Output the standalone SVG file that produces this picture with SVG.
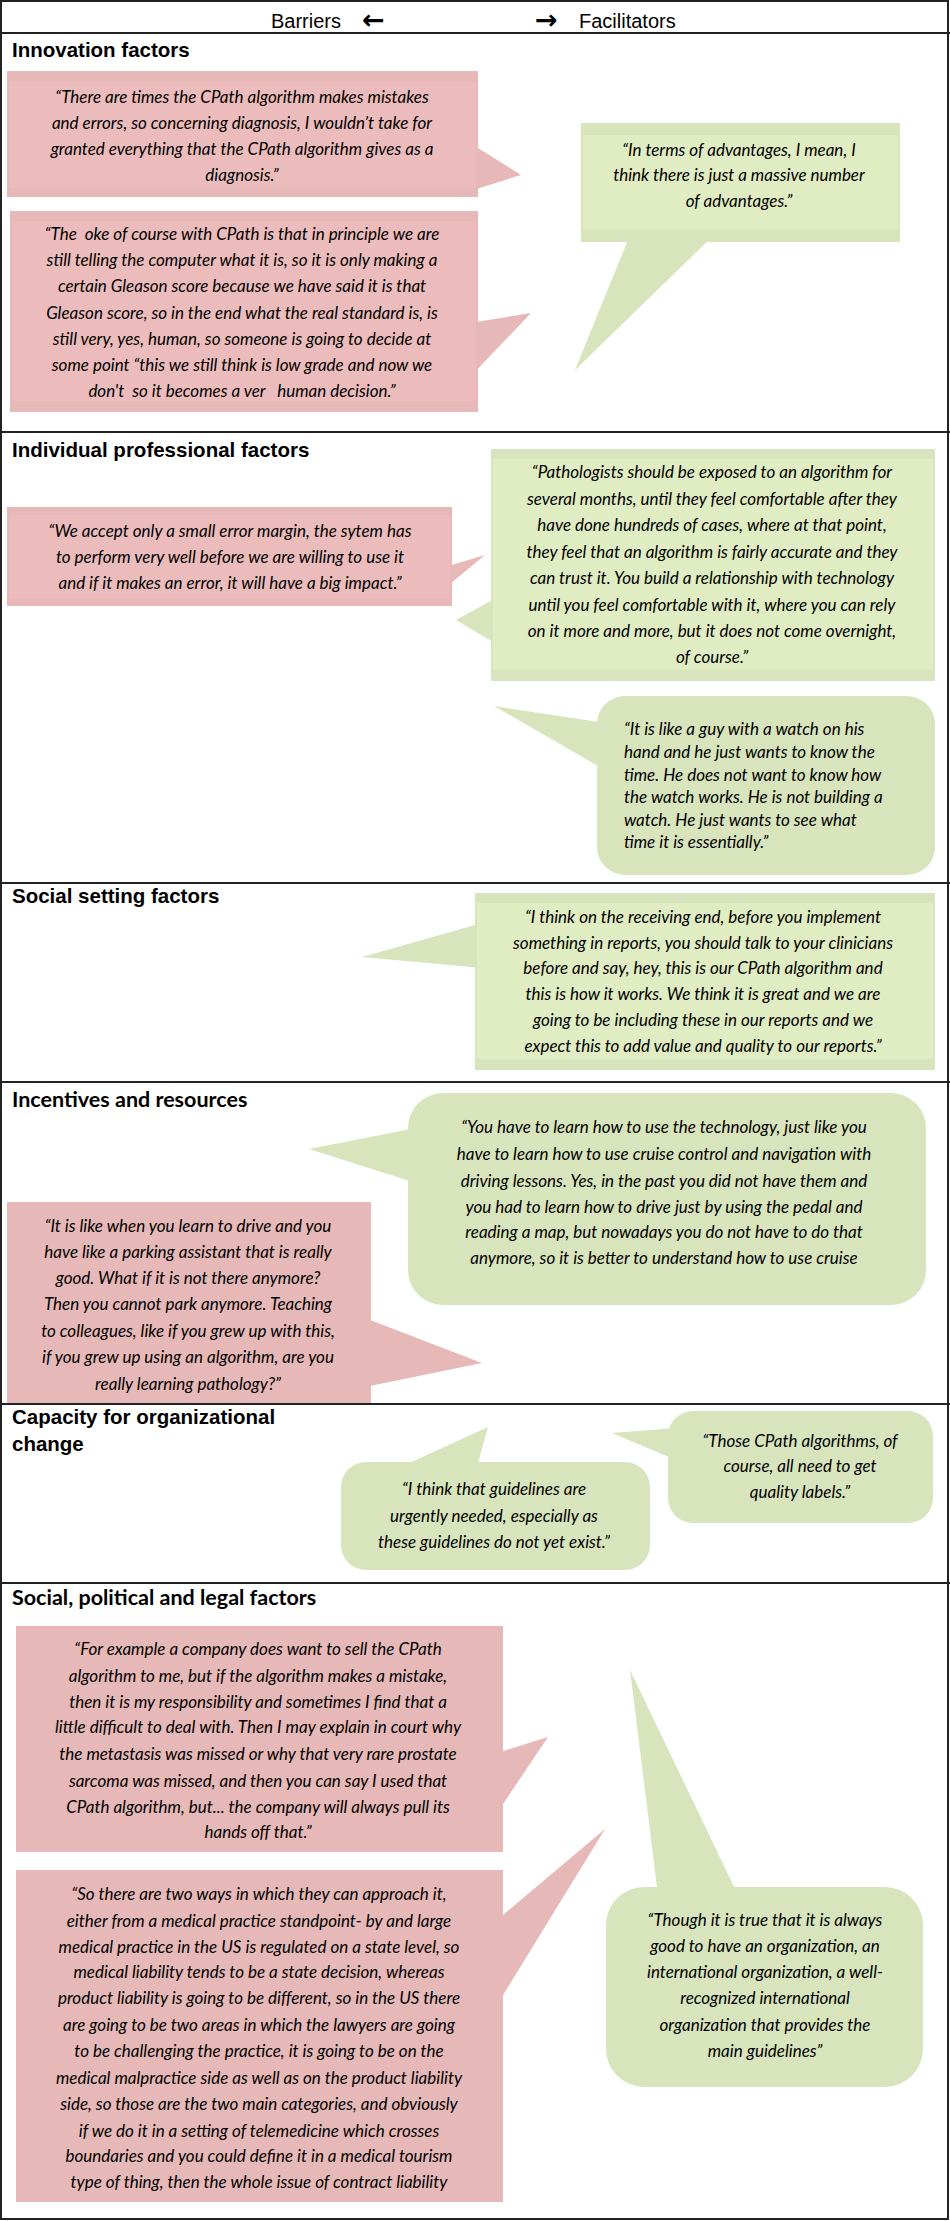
<svg xmlns="http://www.w3.org/2000/svg" width="950" height="2221" viewBox="0 0 950 2221">
<style>
.red{fill:#e6b8b7}
.redi{fill:#ebbcbb}
.grn{fill:#d8e4bc}
.grni{fill:#e0ecc2}
.q{font-family:Lato,"Liberation Sans",sans-serif;font-style:italic;font-size:17px;fill:#000}
.c{text-anchor:middle}
.h{font-family:"Liberation Sans",Arial,sans-serif;font-weight:bold;font-size:20.5px;fill:#000}
.h2{font-family:Lato,"Liberation Sans",sans-serif;font-weight:bold;font-size:21.5px;fill:#000}
.top{font-family:"Liberation Sans",Arial,sans-serif;font-size:20px;fill:#000}
.arr{font-family:"DejaVu Sans",sans-serif;font-weight:bold;font-size:27px;fill:#000}
.sep{stroke:#222;stroke-width:2;fill:none}
</style>
<rect width="950" height="2221" fill="#fff"/>
<g id="frame">
<rect x="1" y="1" width="947" height="2218" class="sep"/>
<line x1="0" y1="33" x2="950" y2="33" class="sep"/>
<line x1="0" y1="432" x2="950" y2="432" class="sep"/>
<line x1="0" y1="883" x2="950" y2="883" class="sep"/>
<line x1="0" y1="1082" x2="950" y2="1082" class="sep"/>
<line x1="0" y1="1404" x2="950" y2="1404" class="sep"/>
<line x1="0" y1="1583" x2="950" y2="1583" class="sep"/>
</g>
<g id="header">
<text x="271" y="28" class="top">Barriers</text>
<text x="362" y="29" class="arr">←</text>
<text x="535" y="29" class="arr">→</text>
<text x="579" y="28" class="top">Facilitators</text>
</g>
<g id="headings">
<text x="12" y="57" class="h">Innovation factors</text>
<text x="12" y="457" class="h">Individual professional factors</text>
<text x="12" y="903" class="h">Social setting factors</text>
<text x="12" y="1107" class="h2">Incentives and resources</text>
<text x="12" y="1424" class="h">Capacity for organizational</text>
<text x="12" y="1451" class="h">change</text>
<text x="12" y="1605" class="h2">Social, political and legal factors</text>
</g>

<g id="red1">
<polygon class="red" points="470,143 521,175 470,191"/>
<rect class="red" x="7" y="71" width="471" height="126"/>
<rect class="redi" x="9" y="82" width="467" height="106"/>
<text class="q c" x="242" y="103">“There are times the CPath algorithm makes mistakes</text>
<text class="q c" x="242" y="129">and errors, so concerning diagnosis, I wouldn’t take for</text>
<text class="q c" x="242" y="155">granted everything that the CPath algorithm gives as a</text>
<text class="q c" x="242" y="181">diagnosis.”</text>
</g>

<g id="green1">
<polygon class="grn" points="630,235 575,370 714,235"/>
<rect class="grn" x="581" y="123" width="319" height="119"/>
<rect class="grni" x="583" y="135" width="315" height="95"/>
<text class="q c" x="739" y="156">“In terms of advantages, I mean, I</text>
<text class="q c" x="739" y="181">think there is just a massive number</text>
<text class="q c" x="739" y="207">of advantages.”</text>
</g>

<g id="red2">
<polygon class="red" points="470,323 531,313 470,377"/>
<rect class="red" x="10" y="211" width="468" height="201"/>
<rect class="redi" x="12" y="221" width="464" height="180"/>
<text class="q c" x="242" y="240" xml:space="preserve">“The  oke of course with CPath is that in principle we are</text>
<text class="q c" x="242" y="266">still telling the computer what it is, so it is only making a</text>
<text class="q c" x="242" y="292">certain Gleason score because we have said it is that</text>
<text class="q c" x="242" y="319">Gleason score, so in the end what the real standard is, is</text>
<text class="q c" x="242" y="345">still very, yes, human, so someone is going to decide at</text>
<text class="q c" x="242" y="371">some point “this we still think is low grade and now we</text>
<text class="q c" x="242" y="397" xml:space="preserve">don't  so it becomes a ver   human decision.”</text>
</g>

<g id="red3">
<polygon class="red" points="445,567 485,555 445,588"/>
<rect class="red" x="7" y="507" width="445" height="99"/>
<rect class="redi" x="9" y="515" width="441" height="83"/>
<text class="q c" x="230" y="537">“We accept only a small error margin, the sytem has</text>
<text class="q c" x="230" y="563">to perform very well before we are willing to use it</text>
<text class="q c" x="230" y="589">and if it makes an error, it will have a big impact.”</text>
</g>

<g id="green2">
<polygon class="grn" points="498,597 456,620 498,645"/>
<rect class="grn" x="491" y="449" width="444" height="232"/>
<rect class="grni" x="493" y="459" width="440" height="211"/>
<text class="q c" x="712" y="478">“Pathologists should be exposed to an algorithm for</text>
<text class="q c" x="712" y="505">several months, until they feel comfortable after they</text>
<text class="q c" x="712" y="531">have done hundreds of cases, where at that point,</text>
<text class="q c" x="712" y="558">they feel that an algorithm is fairly accurate and they</text>
<text class="q c" x="712" y="584">can trust it. You build a relationship with technology</text>
<text class="q c" x="712" y="611">until you feel comfortable with it, where you can rely</text>
<text class="q c" x="712" y="637">on it more and more, but it does not come overnight,</text>
<text class="q c" x="712" y="663">of course.”</text>
</g>

<g id="green3">
<polygon class="grn" points="605,723 494,706 605,770"/>
<rect class="grn" x="597" y="696" width="338" height="179" rx="28"/>
<text class="q" x="624" y="735">“It is like a guy with a watch on his</text>
<text class="q" x="624" y="758">hand and he just wants to know the</text>
<text class="q" x="624" y="781">time. He does not want to know how</text>
<text class="q" x="624" y="803">the watch works. He is not building a</text>
<text class="q" x="624" y="826">watch. He just wants to see what</text>
<text class="q" x="624" y="848">time it is essentially.”</text>
</g>

<g id="green4">
<polygon class="grn" points="482,923 362,957 482,968"/>
<rect class="grn" x="475" y="893" width="460" height="177"/>
<rect class="grni" x="477" y="903" width="456" height="156"/>
<text class="q c" x="703" y="923">“I think on the receiving end, before you implement</text>
<text class="q c" x="703" y="949">something in reports, you should talk to your clinicians</text>
<text class="q c" x="703" y="974">before and say, hey, this is our CPath algorithm and</text>
<text class="q c" x="703" y="1000">this is how it works. We think it is great and we are</text>
<text class="q c" x="703" y="1026">going to be including these in our reports and we</text>
<text class="q c" x="703" y="1052">expect this to add value and quality to our reports.”</text>
</g>

<g id="green5">
<polygon class="grn" points="416,1128 309,1149 416,1183"/>
<rect class="grn" x="408" y="1093" width="518" height="212" rx="35"/>
<text class="q c" x="664" y="1133">“You have to learn how to use the technology, just like you</text>
<text class="q c" x="664" y="1160">have to learn how to use cruise control and navigation with</text>
<text class="q c" x="664" y="1187">driving lessons. Yes, in the past you did not have them and</text>
<text class="q c" x="664" y="1213">you had to learn how to drive just by using the pedal and</text>
<text class="q c" x="664" y="1238">reading a map, but nowadays you do not have to do that</text>
<text class="q c" x="664" y="1264">anymore, so it is better to understand how to use cruise</text>
</g>

<g id="red5">
<polygon class="red" points="365,1318 482,1363 365,1387"/>
<rect class="red" x="7" y="1202" width="364" height="201"/>
<text class="q c" x="188" y="1232">“It is like when you learn to drive and you</text>
<text class="q c" x="188" y="1258">have like a parking assistant that is really</text>
<text class="q c" x="188" y="1284">good. What if it is not there anymore?</text>
<text class="q c" x="188" y="1310">Then you cannot park anymore. Teaching</text>
<text class="q c" x="188" y="1337">to colleagues, like if you grew up with this,</text>
<text class="q c" x="188" y="1363">if you grew up using an algorithm, are you</text>
<text class="q c" x="188" y="1390">really learning pathology?”</text>
</g>

<g id="green6">
<polygon class="grn" points="394,1470 488,1427 476,1470"/>
<rect class="grn" x="341" y="1462" width="309" height="108" rx="25"/>
<text class="q c" x="494" y="1495">“I think that guidelines are</text>
<text class="q c" x="494" y="1522">urgently needed, especially as</text>
<text class="q c" x="494" y="1548">these guidelines do not yet exist.”</text>
</g>

<g id="green7">
<polygon class="grn" points="676,1428 612,1433 676,1460"/>
<rect class="grn" x="668" y="1411" width="265" height="112" rx="25"/>
<text class="q c" x="800" y="1447">“Those CPath algorithms, of</text>
<text class="q c" x="800" y="1472">course, all need to get</text>
<text class="q c" x="800" y="1498">quality labels.”</text>
</g>

<g id="red7">
<polygon class="red" points="497,1753 548,1737 497,1813"/>
<rect class="red" x="16" y="1626" width="487" height="226"/>
<text class="q c" x="258" y="1655">“For example a company does want to sell the CPath</text>
<text class="q c" x="258" y="1682">algorithm to me, but if the algorithm makes a mistake,</text>
<text class="q c" x="258" y="1708">then it is my responsibility and sometimes I find that a</text>
<text class="q c" x="258" y="1733">little difficult to deal with. Then I may explain in court why</text>
<text class="q c" x="258" y="1760">the metastasis was missed or why that very rare prostate</text>
<text class="q c" x="258" y="1787">sarcoma was missed, and then you can say I used that</text>
<text class="q c" x="258" y="1813">CPath algorithm, but... the company will always pull its</text>
<text class="q c" x="258" y="1838">hands off that.”</text>
</g>

<g id="red8">
<polygon class="red" points="497,1920 605,1829 497,2005"/>
<rect class="red" x="16" y="1870" width="487" height="332"/>
<text class="q c" x="259" y="1900">“So there are two ways in which they can approach it,</text>
<text class="q c" x="259" y="1927">either from a medical practice standpoint- by and large</text>
<text class="q c" x="259" y="1953">medical practice in the US is regulated on a state level, so</text>
<text class="q c" x="259" y="1978">medical liability tends to be a state decision, whereas</text>
<text class="q c" x="259" y="2004">product liability is going to be different, so in the US there</text>
<text class="q c" x="259" y="2031">are going to be two areas in which the lawyers are going</text>
<text class="q c" x="259" y="2057">to be challenging the practice, it is going to be on the</text>
<text class="q c" x="259" y="2084">medical malpractice side as well as on the product liability</text>
<text class="q c" x="259" y="2110">side, so those are the two main categories, and obviously</text>
<text class="q c" x="259" y="2137">if we do it in a setting of telemedicine which crosses</text>
<text class="q c" x="259" y="2162">boundaries and you could define it in a medical tourism</text>
<text class="q c" x="259" y="2188">type of thing, then the whole issue of contract liability</text>
</g>

<g id="green8">
<polygon class="grn" points="658,1895 630,1670 738,1895"/>
<rect class="grn" x="606" y="1887" width="317" height="200" rx="38"/>
<text class="q c" x="765" y="1926">“Though it is true that it is always</text>
<text class="q c" x="765" y="1952">good to have an organization, an</text>
<text class="q c" x="765" y="1978">international organization, a well-</text>
<text class="q c" x="765" y="2004">recognized international</text>
<text class="q c" x="765" y="2031">organization that provides the</text>
<text class="q c" x="765" y="2057">main guidelines”</text>
</g>
</svg>
